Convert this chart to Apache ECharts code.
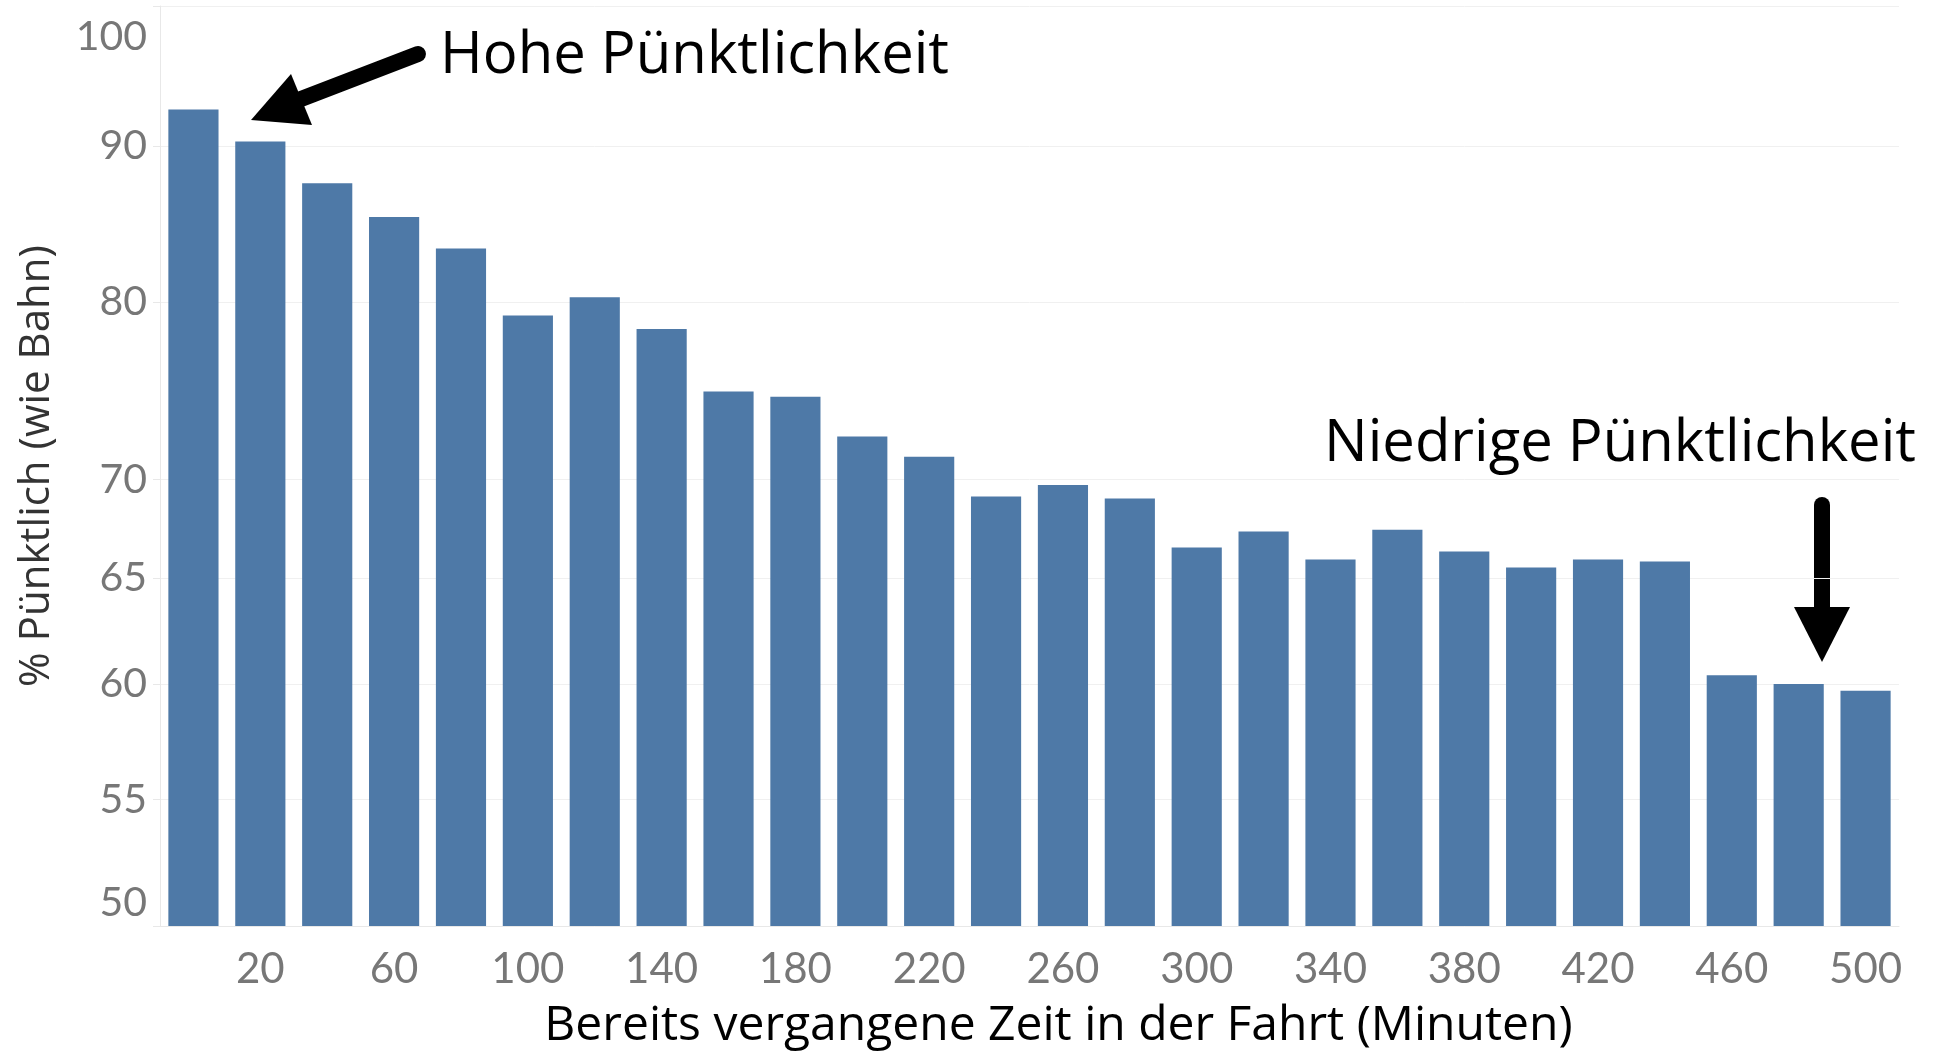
<!DOCTYPE html>
<html style="height: 100%;">

<head>
    <meta charset="utf-8">
    <title>Pünktlichkeit nach vergangener Fahrtzeit</title>
    <script src="https://cdn.jsdelivr.net/npm/echarts@6.0.0/dist/echarts.min.js"></script>
    <style>
        html,
        body {
            height: 100%;
            margin: 0;
            padding: 0;
            background-color: #fff;
        }

        #main {
            width: 1936px;
            height: 1055px;
        }
    </style>
</head>

<body>
    <div id="main"></div>
    <script type="text/javascript">
        // Kategorien: vergangene Zeit in Minuten
        var minutes = ['0', '20', '40', '60', '80', '100', '120', '140', '160', '180', '200', '220', '240',
            '260', '280', '300', '320', '340', '360', '380', '400', '420', '440', '460', '480', '500'];

        // % pünktlich (wie Bahn)
        var punctual = [92.5, 90.3, 87.5, 85.3, 83.3, 79.2, 80.3, 78.4, 74.8, 74.5, 72.3, 71.2, 69.1,
            69.7, 69.0, 66.5, 67.3, 65.9, 67.4, 66.3, 65.5, 65.9, 65.8, 60.4, 60.0, 59.7];

        // Achsenbeschriftung der y-Achse (log. Skala)
        var yTicks = [50, 55, 60, 65, 70, 80, 90, 100];

        var myChart = echarts.init(document.getElementById('main'));

        var option = {
            animation: false,
            grid: {
                left: 160,
                right: 37,
                top: 6,
                bottom: 125
            },
            xAxis: {
                type: 'category',
                data: minutes,
                name: 'Bereits vergangene Zeit in der Fahrt (Minuten)',
                nameLocation: 'middle',
                nameGap: 76,
                nameTextStyle: {
                    fontFamily: 'Open Sans',
                    fontSize: 48,
                    color: '#000',
                    padding: [0, 0, 0, 58]
                },
                axisLine: { lineStyle: { color: '#e8e8e8', width: 1 } },
                axisTick: { show: false },
                axisLabel: {
                    interval: function (index) { return index % 2 === 1; },
                    margin: 22,
                    fontFamily: 'Lato',
                    fontSize: 42,
                    color: '#777'
                }
            },
            yAxis: {
                type: 'log',
                logBase: 10,
                min: 50,
                max: 100,
                name: '% Pünktlich (wie Bahn)',
                nameLocation: 'middle',
                nameGap: 102,
                nameTextStyle: {
                    fontFamily: 'Open Sans',
                    fontSize: 42,
                    color: '#333'
                },
                axisLine: { show: true, lineStyle: { color: '#e8e8e8', width: 1 } },
                axisTick: {
                    show: true,
                    length: 7,
                    customValues: yTicks,
                    lineStyle: { color: '#e8e8e8' }
                },
                splitLine: {
                    show: true,
                    lineStyle: { color: '#f0f0f0', width: 1 }
                },
                axisLabel: {
                    customValues: yTicks,
                    margin: 13,
                    fontFamily: 'Lato',
                    fontSize: 41,
                    lineHeight: 46,
                    padding: [8, 0, 0, 0],
                    color: '#777',
                    showMinLabel: true,
                    showMaxLabel: true,
                    verticalAlignMinLabel: 'bottom',
                    verticalAlignMaxLabel: 'top'
                }
            },
            series: [{
                type: 'bar',
                data: punctual,
                barCategoryGap: '25%',
                clip: true,
                itemStyle: { color: '#4e79a7' }
            }],
            graphic: [
                // Pfeil "Hohe Pünktlichkeit"
                {
                    type: 'line',
                    shape: { x1: 418, y1: 54, x2: 301, y2: 99 },
                    style: { stroke: '#000', lineWidth: 16, lineCap: 'round' }
                },
                {
                    type: 'polygon',
                    shape: { points: [[251, 120], [291, 74], [312, 125]] },
                    style: { fill: '#000' }
                },
                {
                    type: 'text',
                    left: 440,
                    top: 27,
                    style: {
                        text: 'Hohe Pünktlichkeit',
                        fontFamily: 'Open Sans',
                        fontSize: 58,
                        fill: '#000',
                        verticalAlign: 'middle'
                    }
                },
                // Pfeil "Niedrige Pünktlichkeit"
                {
                    type: 'line',
                    shape: { x1: 1822, y1: 505, x2: 1822, y2: 610 },
                    style: { stroke: '#000', lineWidth: 16, lineCap: 'round' }
                },
                {
                    type: 'polygon',
                    shape: { points: [[1794, 607], [1850, 607], [1822, 662]] },
                    style: { fill: '#000' }
                },
                {
                    type: 'text',
                    left: 1324,
                    top: 415,
                    style: {
                        text: 'Niedrige Pünktlichkeit',
                        fontFamily: 'Open Sans',
                        fontSize: 58,
                        fill: '#000',
                        verticalAlign: 'middle'
                    }
                }
            ]
        };

        myChart.setOption(option);
    </script>
</body>

</html>
